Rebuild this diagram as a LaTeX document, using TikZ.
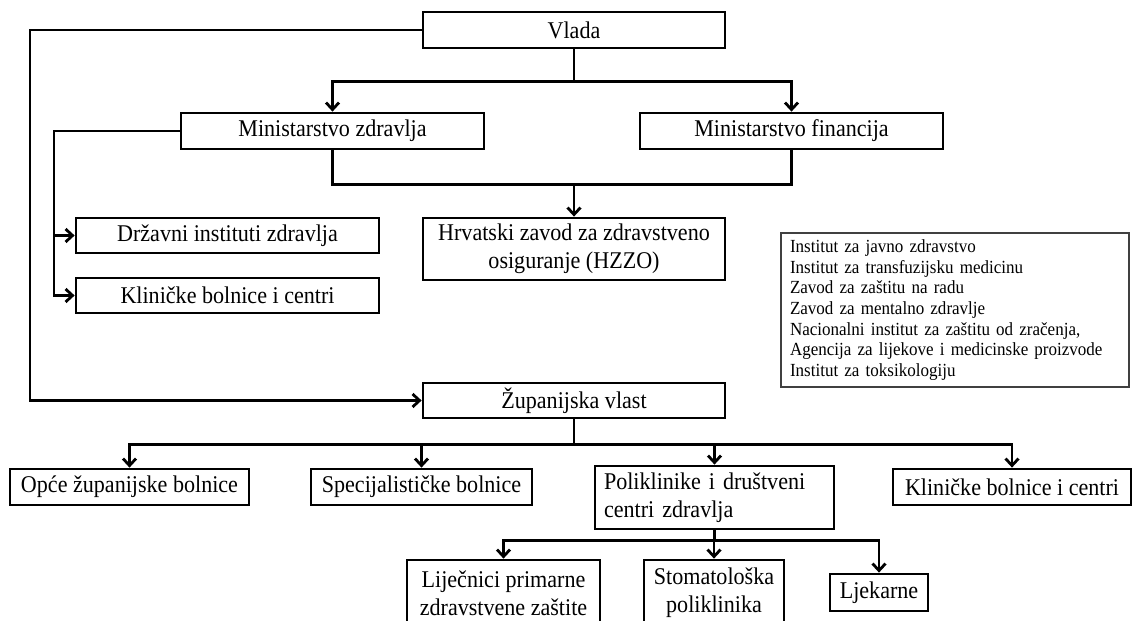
\documentclass[tikz,border=0pt]{standalone}
\usepackage{fontspec}
\setmainfont{Liberation Serif}[FakeStretch=0.92]
\usetikzlibrary{arrows.meta}

\begin{document}
\begin{tikzpicture}[x=1pt,y=-1pt,>={Straight Barb[length=7pt,width=13pt]},line width=2.8pt,
		kutija/.style={draw,line width=2.8pt,inner sep=0pt,align=center,font=\fontsize{24}{28}\selectfont},
		popis/.style={draw=black!75,line width=1.1pt,inner xsep=9pt,inner ysep=5pt,text width=330pt,align=left,font=\fontsize{18.5}{20.6}\selectfont}]
	\useasboundingbox (0,0) rectangle (1135,621);
	\clip (0,0) rectangle (1135,621);
	% razine upravljanja
	\node[kutija,minimum width=302pt,minimum height=36pt] (vlada) at (574,30) {Vlada};
	\node[kutija,minimum width=303pt,minimum height=36pt] (mz) at (332.5,131) {Ministarstvo zdravlja};
	\node[kutija,minimum width=303pt,minimum height=36pt] (mf) at (791.5,131) {Ministarstvo financija};
	\node[kutija,minimum width=302pt,minimum height=62pt] (hzzo) at (574,249) {Hrvatski zavod za zdravstveno\\osiguranje (HZZO)};
	\node[kutija,minimum width=303pt,minimum height=35pt] (drz) at (227.5,235.5) {Državni instituti zdravlja};
	\node[kutija,minimum width=303pt,minimum height=35pt] (klin) at (227.5,295.5) {Kliničke bolnice i centri};
	\node[popis,minimum height=154pt] (info) at (955,310) {Institut za javno zdravstvo\\Institut za transfuzijsku medicinu\\Zavod za zaštitu na radu\\Zavod za mentalno zdravlje\\Nacionalni institut za zaštitu od zračenja,\\Agencija za lijekove i medicinske proizvode\\Institut za toksikologiju};
	\node[kutija,minimum width=302pt,minimum height=35pt] (zup) at (574,400.5) {Županijska vlast};
	% ustanove
	\node[kutija,minimum width=239pt,minimum height=36pt] (opce) at (129.5,487) {Opće županijske bolnice};
	\node[kutija,minimum width=221pt,minimum height=36pt] (spec) at (421.5,487) {Specijalističke bolnice};
	\node[kutija,minimum width=239pt,minimum height=63pt,align=left,text width=221pt] (poli) at (714.5,497.5) {Poliklinike i društveni\\centri zdravlja};
	\node[kutija,minimum width=238pt,minimum height=36pt] (klin2) at (1012,487) {Kliničke bolnice i centri};
	\node[kutija,minimum width=193pt,minimum height=66pt] (lij) at (503.5,593) {Liječnici primarne\\zdravstvene zaštite};
	\node[kutija,minimum width=140pt,minimum height=66pt] (stom) at (714,593) {Stomatološka\\poliklinika};
	\node[kutija,minimum width=98pt,minimum height=37pt] (ljek) at (879,592.5) {Ljekarne};
	% veze
	\coordinate (lft) at (30,30);
	\draw[->] (vlada.west) -- (lft) |- (zup.west);
	\draw (vlada.south) -- ++(0,32) coordinate (vj);
	\draw[->] (vj) -| (mz.north);
	\draw[->] (vj) -| (mf.north);
	\draw (mz.south) -- ++(0,34) -| (mf.south);
	\coordinate (hj) at (574,183);
	\draw[->] (hj) -- (hzzo.north);
	\coordinate (mzl) at (54,131);
	\draw[->] (mz.west) -- (mzl) |- (drz.west);
	\draw[->] (mzl) |- (klin.west);
	\draw (zup.south) -- ++(0,25) coordinate (zj);
	\draw[->] (zj) -| (opce.north);
	\draw[->] (zj) -| (spec.north);
	\draw[->] (zj) -| (poli.north);
	\draw[->] (zj) -| (klin2.north);
	\draw (poli.south) -- ++(0,10) coordinate (pj);
	\draw[->] (pj) -| (lij.north);
	\draw[->] (pj) -| (stom.north);
	\draw[->] (pj) -| (ljek.north);
\end{tikzpicture}
\end{document}
